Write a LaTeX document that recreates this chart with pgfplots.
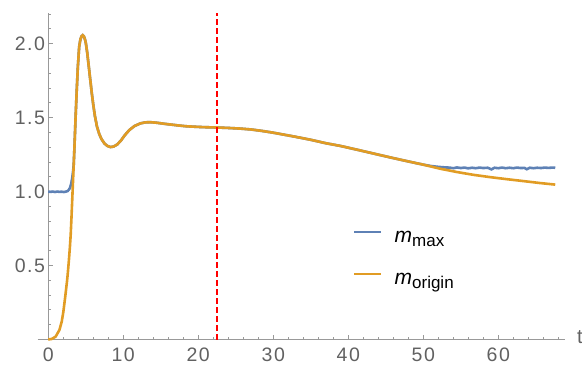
\documentclass[border=0pt]{standalone}
\usepackage{fontspec}
\setmainfont{Liberation Sans}
\newfontfamily\tickfont[LetterSpace=8]{Liberation Sans}
\usepackage{pgfplots}
\pgfplotsset{compat=1.18}
\definecolor{mblue}{rgb}{0.368417,0.506779,0.709798}
\definecolor{morange}{rgb}{0.880722,0.611041,0.142051}
\definecolor{axisgray}{gray}{0.6}
\definecolor{labelgray}{gray}{0.38}
\begin{document}
\begin{tikzpicture}
\useasboundingbox (-37.7pt,-25.5pt) rectangle (544.3pt,339.5pt);
\begin{axis}[
  scale only axis, width=527.3pt, height=326.2pt,
  xmin=-1.4, xmax=68.9, ymin=0, ymax=2.205,
  axis x line=bottom, axis y line=middle,
  x axis line style={-, axisgray, line width=1pt},
  y axis line style={-, axisgray, line width=1pt},
  tick align=inside,
  major tick length=5pt, minor tick length=3pt,
  every tick/.style={axisgray, line width=0.9pt},
  xtick={0,10,20,30,40,50,60},
  ytick={0.5,1.0,1.5,2.0},
  minor xtick={2,4,6,8,12,14,16,18,22,24,26,28,32,34,36,38,42,44,46,48,52,54,56,58,62,64,66,68},
  minor ytick={0.1,0.2,0.3,0.4,0.6,0.7,0.8,0.9,1.1,1.2,1.3,1.4,1.6,1.7,1.8,1.9,2.1,2.2},
  /pgf/number format/assume math mode=true,
  tick label style={font=\fontsize{19.5}{19.5}\tickfont, text=labelgray},
  xticklabel style={inner sep=0pt, anchor=north, yshift=-8pt},
  yticklabel style={inner sep=0pt, anchor=east, xshift=-3pt, /pgf/number format/.cd, fixed, fixed zerofill, precision=1},
  xlabel={t},
  xlabel style={at={(axis description cs:1,0)}, anchor=west, inner sep=0pt, xshift=12pt, yshift=2pt, font=\fontsize{20}{20}\selectfont, text=labelgray},
  clip=false,
  legend style={draw=none, fill=none, at={(axis cs:40.63,0.536)}, anchor=west, inner sep=0pt, row sep=25pt,
    nodes={inner sep=0pt, text height=11pt, text depth=5pt, text=black}},
  legend cell align=left,
  legend image code/.code={\draw[#1, line width=2.4pt] (0pt,7.5pt) -- (27pt,7.5pt); \path (39pt,7.5pt);},
]
\addplot[mblue, line width=2.6pt] coordinates {
(0,1.0) (0.3,0.998) (0.6,1.0) (0.9,0.997) (1.2,1.0) (1.5,0.998) (1.8,0.999) (2.1,0.997) (2.4,1.0)
(2.6,1.004) (2.75,1.012) (2.9,1.025) (3.05,1.05) (3.2,1.09) (3.3,1.13) (3.4,1.18)
(3.5,1.30) (3.65,1.50) (3.8,1.68) (3.95,1.84) (4.13,1.98) (4.3,2.03) (4.45,2.05) (4.6,2.057)
(4.75,2.05) (4.9,2.03) (5.03,2.00) (5.2,1.94) (5.4,1.85) (5.6,1.76) (5.8,1.67) (6.0,1.59)
(6.23,1.51) (6.5,1.44) (6.8,1.39) (7.1,1.355) (7.5,1.325) (7.9,1.308) (8.3,1.301) (8.7,1.304)
(9.2,1.318) (9.7,1.345) (10.2,1.38) (10.8,1.415) (11.5,1.443) (12.3,1.461) (13.0,1.468) (13.6,1.469)
(14.5,1.465) (15.5,1.458) (16.5,1.452) (17.5,1.446) (18.5,1.441) (20,1.437) (21,1.435) (22.5,1.433)
(24,1.430) (25.5,1.426) (27,1.42) (28.5,1.41) (30,1.398) (31.5,1.384) (33,1.37) (35,1.35)
(37,1.327) (39,1.308) (41,1.285) (43.3,1.258) (45.5,1.232) (47.8,1.206) (50,1.182) (51,1.173)
(52,1.167) (53,1.163) (53.5,1.162) (54.0,1.158) (54.5,1.163) (55.0,1.159) (55.5,1.162) (56.0,1.157)
(56.5,1.161) (57.0,1.158) (57.5,1.162) (58.0,1.159) (58.6,1.161) (59.1,1.150) (59.5,1.161) (60.0,1.158)
(60.5,1.162) (61.0,1.158) (61.5,1.161) (62.0,1.158) (62.5,1.162) (63.0,1.159) (63.5,1.160) (63.8,1.151)
(64.2,1.161) (64.7,1.158) (65.2,1.161) (65.7,1.159) (66.2,1.162) (66.7,1.160) (67.2,1.162) (67.6,1.161)
};
\addlegendentry{{\fontsize{21}{21}\selectfont\itshape m}\raisebox{-4pt}{\fontsize{17}{17}\selectfont max}}
\addplot[morange, line width=2.6pt] coordinates {
(0,0) (0.5,0.004) (1.0,0.02) (1.5,0.065) (1.8,0.12) (2.0,0.18) (2.25,0.28) (2.5,0.39) (2.6,0.44)
(2.75,0.53) (2.9,0.63) (3.0,0.71) (3.1,0.82) (3.2,0.94) (3.3,1.06) (3.4,1.18)
(3.5,1.30) (3.65,1.50) (3.8,1.68) (3.95,1.84) (4.13,1.98) (4.3,2.03) (4.45,2.05) (4.6,2.057)
(4.75,2.05) (4.9,2.03) (5.03,2.00) (5.2,1.94) (5.4,1.85) (5.6,1.76) (5.8,1.67) (6.0,1.59)
(6.23,1.51) (6.5,1.44) (6.8,1.39) (7.1,1.355) (7.5,1.325) (7.9,1.308) (8.3,1.301) (8.7,1.304)
(9.2,1.318) (9.7,1.345) (10.2,1.38) (10.8,1.415) (11.5,1.443) (12.3,1.461) (13.0,1.468) (13.6,1.469)
(14.5,1.465) (15.5,1.458) (16.5,1.452) (17.5,1.446) (18.5,1.441) (20,1.437) (21,1.435) (22.5,1.433)
(24,1.430) (25.5,1.426) (27,1.42) (28.5,1.41) (30,1.398) (31.5,1.384) (33,1.37) (35,1.35)
(37,1.327) (39,1.308) (41,1.285) (43.3,1.258) (45.5,1.232) (47.8,1.206) (50,1.182) (52.2,1.155)
(54.5,1.132) (56.7,1.113) (59,1.097) (61.1,1.084) (63.5,1.07) (65.5,1.058) (67.6,1.047)
};
\addlegendentry{{\fontsize{21}{21}\selectfont\itshape m}\raisebox{-4pt}{\fontsize{17}{17}\selectfont origin}}
\addplot[red, line width=1.8pt, dash pattern=on 6pt off 3pt, forget plot] coordinates {(22.5,0) (22.5,2.205)};
\end{axis}
\end{tikzpicture}
\end{document}
